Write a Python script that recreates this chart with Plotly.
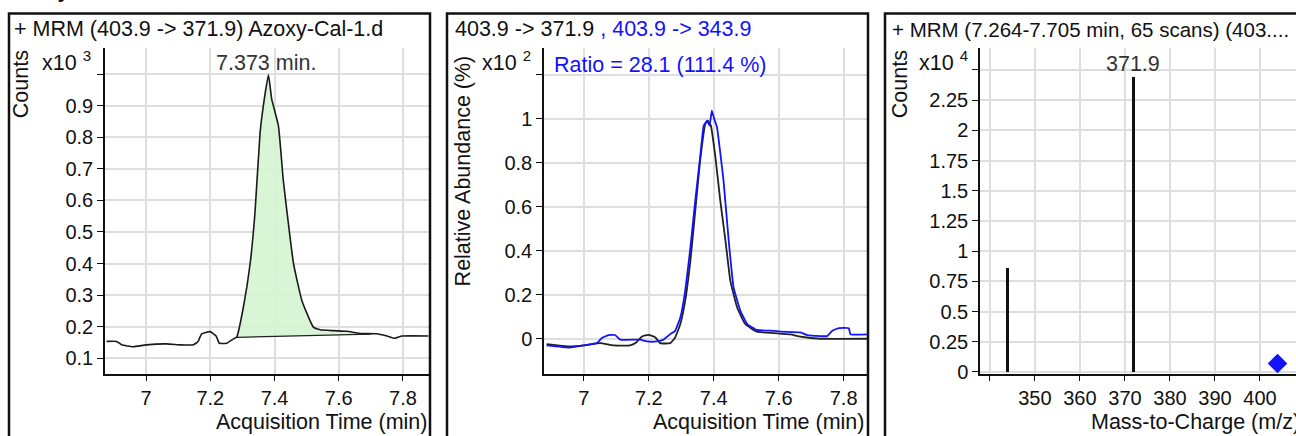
import plotly.graph_objects as go

# ---------------- data ----------------
# Panel 1: chromatogram 403.9 -> 371.9 (counts x10^3)
chrom_time = [6.877, 6.908, 6.924, 6.960, 7.000, 7.064, 7.107, 7.147, 7.162, 7.173, 7.199,
              7.218, 7.228, 7.251, 7.272, 7.282, 7.303, 7.324, 7.339, 7.355, 7.365, 7.381,
              7.391, 7.412, 7.427, 7.443, 7.459, 7.485, 7.521, 7.542, 7.584, 7.625, 7.666,
              7.718, 7.750, 7.775, 7.797, 7.879]
chrom_counts = [0.153, 0.153, 0.142, 0.136, 0.142, 0.145, 0.142, 0.142, 0.153, 0.177, 0.184,
                0.170, 0.147, 0.147, 0.161, 0.166, 0.262, 0.400, 0.560, 0.816, 0.900, 0.998,
                0.922, 0.837, 0.666, 0.528, 0.400, 0.283, 0.198, 0.190, 0.187, 0.185, 0.178,
                0.177, 0.170, 0.163, 0.170, 0.170]
integ_start = (7.282, 0.166)
integ_end = (7.700, 0.176)
peak_rt_label = "7.373 min."

# Panel 2: qualifier overlay (relative abundance x10^2)
q_black_t = [6.885, 6.957, 7.000, 7.050, 7.091, 7.142, 7.160, 7.179, 7.199, 7.220, 7.235,
             7.266, 7.281, 7.297, 7.312, 7.328, 7.343, 7.358, 7.374, 7.382, 7.391, 7.405,
             7.420, 7.436, 7.451, 7.472, 7.497, 7.533, 7.585, 7.636, 7.667, 7.729, 7.872]
q_black_v = [-0.024, -0.035, -0.030, -0.020, -0.030, -0.030, -0.018, 0.010, 0.018, 0.006, -0.020,
             -0.020, 0.006, 0.067, 0.173, 0.355, 0.582, 0.810, 0.976, 0.990, 0.968, 0.825,
             0.627, 0.445, 0.264, 0.142, 0.067, 0.032, 0.026, 0.020, 0.010, 0.000, 0.000]
q_blue_t = [6.885, 6.957, 7.000, 7.040, 7.055, 7.075, 7.096, 7.112, 7.173, 7.194, 7.225,
            7.245, 7.266, 7.281, 7.297, 7.312, 7.328, 7.343, 7.358, 7.369, 7.379, 7.387,
            7.394, 7.401, 7.410, 7.430, 7.446, 7.461, 7.482, 7.503, 7.533, 7.585, 7.605,
            7.667, 7.688, 7.729, 7.749, 7.765, 7.785, 7.816, 7.821, 7.872]
q_blue_v = [-0.030, -0.040, -0.030, -0.020, 0.003, 0.017, 0.017, -0.004, -0.004, -0.012, -0.012,
            -0.004, 0.021, 0.036, 0.097, 0.218, 0.415, 0.627, 0.825, 0.968, 0.990, 0.968,
            1.036, 1.000, 0.960, 0.718, 0.445, 0.233, 0.127, 0.067, 0.040, 0.036, 0.032,
            0.029, 0.017, 0.012, 0.012, 0.036, 0.048, 0.048, 0.020, 0.020]
ratio_text = "Ratio = 28.1 (111.4 %)"

# Panel 3: MRM spectrum (counts x10^4)
mz = [343.9, 371.9]
mz_counts = [0.86, 2.44]
precursor_mz = [403.9]
precursor_y = [0.07]

# ticks (labelled) and unlabelled extra ticks
p1_xticks = [7.0, 7.2, 7.4, 7.6, 7.8]
p1_xlabels = ["7", "7.2", "7.4", "7.6", "7.8"]
p1_yticks = [0.1, 0.2, 0.3, 0.4, 0.5, 0.6, 0.7, 0.8, 0.9]
p1_ylabels = ["0.1", "0.2", "0.3", "0.4", "0.5", "0.6", "0.7", "0.8", "0.9"]
p1_yextra = [1.0]
p2_yticks = [0, 0.2, 0.4, 0.6, 0.8, 1.0]
p2_ylabels = ["0", "0.2", "0.4", "0.6", "0.8", "1"]
p2_yextra = [1.2]
p3_xticks = [350, 360, 370, 380, 390, 400, 410]
p3_xlabels = ["350", "360", "370", "380", "390", "400", "410"]
p3_xextra = [340]
p3_yticks = [0, 0.25, 0.5, 0.75, 1.0, 1.25, 1.5, 1.75, 2.0, 2.25]
p3_ylabels = ["0", "0.25", "0.5", "0.75", "1", "1.25", "1.5", "1.75", "2", "2.25"]
p3_yextra = [2.5]

# ---------------- layout helpers ----------------
W, H = 1296, 436          # reference picture size (coordinates below are in it)
FIG_H = 446               # page height that maps onto the 436-px photograph
FONT = "Liberation Sans, Arial, Helvetica, sans-serif"
BLUE = "#1212ff"
TXT = 21.5
TICK = 20
GRID = "#dedede"


def px(x):
    return x / W


def py(y):
    return 1 - y / H


fig = go.Figure()

# Panel 1 fill polygon (integrated area) built from data
pk_t = [t for t in chrom_time if integ_start[0] <= t <= integ_end[0]]
pk_v = [v for t, v in zip(chrom_time, chrom_counts) if integ_start[0] <= t <= integ_end[0]]
fill_t = [integ_start[0]] + pk_t + [integ_end[0], integ_start[0]]
fill_v = [integ_start[1]] + pk_v + [integ_end[1], integ_start[1]]
fig.add_trace(go.Scatter(x=fill_t, y=fill_v, fill="toself", fillcolor="rgba(212,244,208,0.9)",
                         line=dict(width=0, shape="spline", smoothing=0.4), mode="lines",
                         xaxis="x", yaxis="y", hoverinfo="skip"))
fig.add_trace(go.Scatter(x=[integ_start[0], integ_end[0]], y=[integ_start[1], integ_end[1]],
                         mode="lines", line=dict(color="#222", width=1.3), xaxis="x", yaxis="y"))
fig.add_trace(go.Scatter(x=chrom_time, y=chrom_counts, mode="lines",
                         line=dict(color="#1a1a1a", width=1.6, shape="spline", smoothing=0.4),
                         xaxis="x", yaxis="y"))

# Panel 2
fig.add_trace(go.Scatter(x=q_black_t, y=q_black_v, mode="lines",
                         line=dict(color="#222", width=1.8, shape="spline", smoothing=0.4),
                         xaxis="x2", yaxis="y2"))
fig.add_trace(go.Scatter(x=q_blue_t, y=q_blue_v, mode="lines",
                         line=dict(color=BLUE, width=1.8, shape="spline", smoothing=0.3),
                         xaxis="x2", yaxis="y2"))

# Panel 3
fig.add_trace(go.Bar(x=mz, y=mz_counts, width=0.65, marker=dict(color="#111", line=dict(width=0)),
                     xaxis="x3", yaxis="y3"))
fig.add_trace(go.Scatter(x=precursor_mz, y=precursor_y, mode="markers",
                         marker=dict(symbol="diamond", size=15, color=BLUE),
                         xaxis="x3", yaxis="y3"))


def axis(domain, rng, tickvals, ticktext, anchor, extra=None):
    d = dict(domain=domain, range=rng, tickmode="array", tickvals=tickvals, ticktext=ticktext,
             anchor=anchor, showline=True, linecolor="#111", linewidth=1.5, ticks="outside",
             ticklen=6, tickcolor="#111", tickwidth=1.3, showgrid=True, gridcolor=GRID,
             gridwidth=1.5, zeroline=False, mirror=False,
             tickfont=dict(family=FONT, size=TICK, color="#111"))
    if extra:
        d["minor"] = dict(tickmode="array", tickvals=extra, ticks="outside", ticklen=6,
                          tickcolor="#111", tickwidth=1.3, showgrid=True, gridcolor=GRID,
                          gridwidth=1.5)
    return d


y_dom = [py(372.7), py(48)]
fig.update_layout(
    width=W, height=FIG_H, margin=dict(l=0, r=0, t=0, b=0),
    paper_bgcolor="white", plot_bgcolor="white", showlegend=False, bargap=0,
    xaxis=axis([px(105), px(429)], [6.872, 7.881], p1_xticks, p1_xlabels, "y"),
    yaxis=axis(y_dom, [0.051, 1.083], p1_yticks, p1_ylabels, "x", p1_yextra),
    xaxis2=axis([px(544), px(867)], [6.877, 7.872], p1_xticks, p1_xlabels, "y2"),
    yaxis2=axis(y_dom, [-0.158, 1.32], p2_yticks, p2_ylabels, "x2", p2_yextra),
    xaxis3=axis([px(980), 1.0], [337.8, 408.0], p3_xticks, p3_xlabels, "y3", p3_xextra),
    yaxis3=axis(y_dom, [-0.013, 2.68], p3_yticks, p3_ylabels, "x3", p3_yextra),
)

# panel frames
for x0, x1 in [(9, 430), (447, 868), (885, 1310)]:
    fig.add_shape(type="rect", xref="paper", yref="paper", x0=px(x0), x1=px(x1),
                  y0=py(470), y1=py(13.5), line=dict(color="#111", width=2.5), layer="above")


def ann(text, x, y, size=TXT, color="#111", xanchor="left", yanchor="middle", angle=0, bold=False):
    fig.add_annotation(text=("<b>%s</b>" % text) if bold else text, x=x, y=y, xref="paper",
                       yref="paper", showarrow=False, xanchor=xanchor, yanchor=yanchor,
                       textangle=angle, font=dict(family=FONT, size=size, color=color))


# cut-off heading at very top
ann("Azoxystrobin", px(3), py(4), size=22, yanchor="bottom", bold=True)

# panel titles
ann("+ MRM (403.9 -> 371.9) Azoxy-Cal-1.d", px(12), py(29))
ann("403.9 -> 371.9 <span style='color:%s'>, 403.9 -> 343.9</span>" % BLUE, px(453), py(29))
ann("+ MRM (7.264-7.705 min, 65 scans) (403....", px(890), py(29), size=20.5)

# y titles and multipliers
ann("Counts", px(21), py(84), angle=-90, xanchor="center")
ann("x10 <sup>3</sup>", px(40), py(61), xanchor="left")
ann("Relative Abundance (%)", px(463), py(170), angle=-90, xanchor="center")
ann("x10 <sup>2</sup>", px(480), py(61), xanchor="left")
ann("Counts", px(900), py(84), angle=-90, xanchor="center")
ann("x10 <sup>4</sup>", px(917), py(61), xanchor="left")

# in-plot labels
ann(peak_rt_label, px(266), py(63), color="#333", xanchor="center")
ann(ratio_text, px(552), py(65), color=BLUE)
ann("371.9", px(1133), py(64), color="#333", xanchor="center")

# x titles
ann("Acquisition Time (min)", px(429), py(421), xanchor="right")
ann("Acquisition Time (min)", px(866), py(421), xanchor="right")
ann("Mass-to-Charge (m/z)", px(1302), py(421), xanchor="right")

fig.write_html("out.html", config={"displayModeBar": False},
               post_script="document.documentElement.style.margin='0';"
                           "document.body.style.margin='0';"
                           "document.body.style.overflow='hidden';")
